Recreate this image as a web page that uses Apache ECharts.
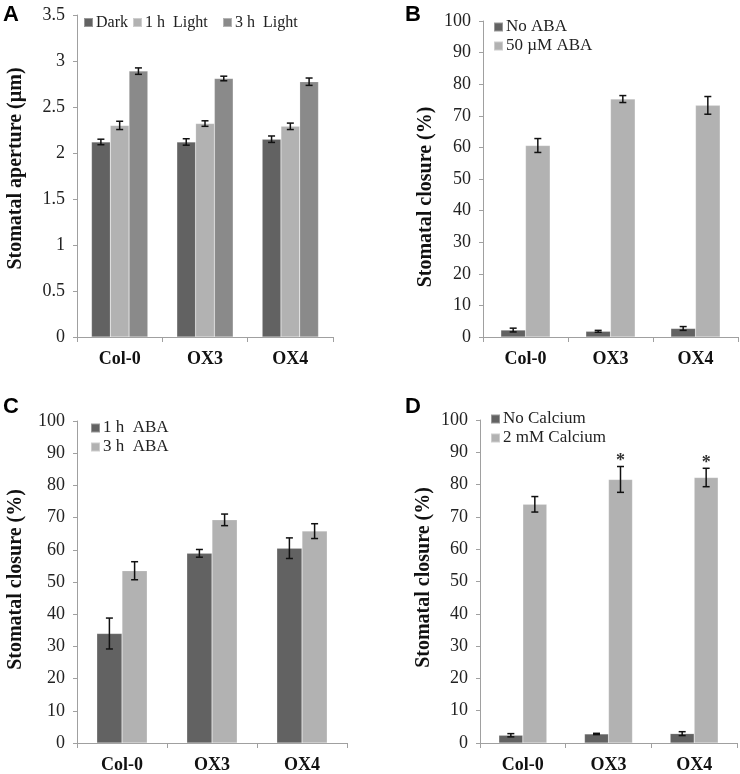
<!DOCTYPE html>
<html>
<head>
<meta charset="utf-8">
<script src="https://cdn.jsdelivr.net/npm/echarts@6/dist/echarts.min.js"></script>
<style>html,body{margin:0;padding:0;background:#fff;}#c{width:740px;height:774px;}</style>
</head>
<body>
<div id="c"></div>
<script>
const categories = ['Col-0', 'OX3', 'OX4'];

const aDark = [2.12, 2.12, 2.15];
const aDarkErr = [0.03, 0.035, 0.035];
const a1h = [2.30, 2.32, 2.29];
const a1hErr = [0.045, 0.03, 0.035];
const a3h = [2.89, 2.81, 2.775];
const a3hErr = [0.035, 0.025, 0.04];
const aTicks = { min: 0, max: 3.5, interval: 0.5 };

const bNo = [2.2, 1.8, 2.7];
const bNoErr = [0.6, 0.3, 0.6];
const bAba = [60.6, 75.3, 73.3];
const bAbaErr = [2.2, 1.1, 2.8];

const c1h = [34.0, 58.9, 60.5];
const c1hErr = [4.8, 1.2, 3.2];
const c3h = [53.5, 69.3, 65.8];
const c3hErr = [2.8, 1.8, 2.3];

const dNo = [2.4, 2.8, 2.9];
const dNoErr = [0.5, 0.2, 0.6];
const dCa = [73.9, 81.6, 82.2];
const dCaErr = [2.4, 4.0, 2.85];
const dStars = ['', '*', '*'];

const pctTicks = { min: 0, max: 100, interval: 10 };

const DARK = '#626262', LIGHT = '#b2b2b2', MID = '#8a8a8a';
const SERIF = 'Liberation Serif';
const AXIS_C = '#a0a0a0';

const grids = [
  { left: 77, top: 15, width: 256, height: 322, gap: 0.34 },
  { left: 483, top: 21, width: 255, height: 316, gap: 0.42 },
  { left: 77, top: 421, width: 270, height: 322, gap: 0.44 },
  { left: 480, top: 420, width: 257, height: 324, gap: 0.44 }
];

function xAxis(g) {
  return {
    type: 'category', gridIndex: g, data: categories,
    axisLine: { show: true, lineStyle: { color: AXIS_C, width: 1 } },
    axisTick: { show: true, length: 5, lineStyle: { color: AXIS_C } },
    axisLabel: { fontFamily: SERIF, fontWeight: 'bold', fontSize: 18, color: '#111', margin: 13 },
    splitLine: { show: false }
  };
}
function yAxis(g, t, name, gap, pad) {
  return {
    type: 'value', gridIndex: g, min: t.min, max: t.max, interval: t.interval,
    name: name, nameLocation: 'middle', nameGap: gap,
    nameTextStyle: { fontFamily: SERIF, fontWeight: 'bold', fontSize: 20, color: '#111', padding: pad },
    axisLine: { show: true, lineStyle: { color: AXIS_C, width: 1 } },
    axisTick: { show: true, length: 4, lineStyle: { color: AXIS_C } },
    axisLabel: { fontFamily: SERIF, fontSize: 18, color: '#222', margin: 12 },
    splitLine: { show: false }
  };
}

function bar(g, name, vals, color) {
  return {
    type: 'bar', name: name, xAxisIndex: g, yAxisIndex: g, data: vals,
    barGap: '0%', barCategoryGap: Math.round(grids[g].gap * 100) + '%',
    itemStyle: { color: color, borderColor: 'rgba(255,255,255,0.35)', borderWidth: 0.5 },
    emphasis: { disabled: true }, silent: true
  };
}

function errBars(g, vals, errs, idx, n, stars) {
  const gap = grids[g].gap;
  return {
    type: 'custom', xAxisIndex: g, yAxisIndex: g, z: 10, silent: true,
    encode: { x: 0, y: 1 },
    data: vals.map((v, i) => [i, v, errs[i]]),
    renderItem: function (params, api) {
      const i = api.value(0), v = api.value(1), e = api.value(2);
      const bandW = api.size([1, 0])[0];
      const w = bandW * (1 - gap) / n;
      const off = -n * w / 2 + w * (idx + 0.5);
      const top = api.coord([i, v + e]);
      const bot = api.coord([i, v - e]);
      const x = top[0] + off;
      const h = 3.5;
      const st = { stroke: '#111', lineWidth: 1.5 };
      const children = [
        { type: 'line', shape: { x1: x, y1: top[1], x2: x, y2: bot[1] }, style: st },
        { type: 'line', shape: { x1: x - h, y1: top[1], x2: x + h, y2: top[1] }, style: st },
        { type: 'line', shape: { x1: x - h, y1: bot[1], x2: x + h, y2: bot[1] }, style: st }
      ];
      if (stars && stars[params.dataIndex]) {
        children.push({ type: 'text', style: { text: stars[params.dataIndex], x: x, y: top[1] + 4,
          align: 'center', verticalAlign: 'bottom', fill: '#333', font: 'bold 18px ' + SERIF } });
      }
      return { type: 'group', children: children };
    }
  };
}

function legend(names, left, top, orient, size) {
  return {
    data: names, left: left, top: top, orient: orient, icon: 'rect', padding: 0,
    itemWidth: 9, itemHeight: 9, itemGap: 2,
    selectedMode: false,
    textStyle: { fontFamily: SERIF, fontSize: size, color: '#222', padding: [0, 0, 0, -2] }
  };
}

function letter(t, x, y) {
  return { type: 'text', left: x, top: y, style: { text: t, font: 'bold 22px Liberation Sans', fill: '#000' } };
}

const option = {
  animation: false,
  backgroundColor: '#fff',
  grid: grids.map(g => ({ left: g.left, top: g.top, width: g.width, height: g.height })),
  xAxis: [xAxis(0), xAxis(1), xAxis(2), xAxis(3)],
  yAxis: [
    yAxis(0, aTicks, 'Stomatal aperture (µm)', 51, [0, 0, 0, 15]),
    yAxis(1, pctTicks, 'Stomatal closure (%)', 47, [0, 36, 0, 0]),
    yAxis(2, pctTicks, 'Stomatal closure (%)', 51, [0, 0, 0, 5]),
    yAxis(3, pctTicks, 'Stomatal closure (%)', 46, [0, 0, 0, 8])
  ],
  legend: [
    legend(['Dark'], 83, 14.5, 'horizontal', 16),
    legend(['1 h  Light'], 132, 14.5, 'horizontal', 16),
    legend(['3 h  Light'], 222, 14.5, 'horizontal', 16),
    legend(['No ABA', '50 µM ABA'], 493, 18.5, 'vertical', 17),
    legend(['1 h  ABA', '3 h  ABA'], 90, 419.5, 'vertical', 17),
    legend(['No Calcium', '2 mM Calcium'], 490, 410.5, 'vertical', 17)
  ],
  graphic: [letter('A', 3, 4), letter('B', 405, 4), letter('C', 3, 396), letter('D', 405, 396)],
  series: [
    bar(0, 'Dark', aDark, DARK), bar(0, '1 h  Light', a1h, LIGHT), bar(0, '3 h  Light', a3h, MID),
    errBars(0, aDark, aDarkErr, 0, 3), errBars(0, a1h, a1hErr, 1, 3), errBars(0, a3h, a3hErr, 2, 3),
    bar(1, 'No ABA', bNo, DARK), bar(1, '50 µM ABA', bAba, LIGHT),
    errBars(1, bNo, bNoErr, 0, 2), errBars(1, bAba, bAbaErr, 1, 2),
    bar(2, '1 h  ABA', c1h, DARK), bar(2, '3 h  ABA', c3h, LIGHT),
    errBars(2, c1h, c1hErr, 0, 2), errBars(2, c3h, c3hErr, 1, 2),
    bar(3, 'No Calcium', dNo, DARK), bar(3, '2 mM Calcium', dCa, LIGHT),
    errBars(3, dNo, dNoErr, 0, 2), errBars(3, dCa, dCaErr, 1, 2, dStars)
  ]
};

const chart = echarts.init(document.getElementById('c'), null, { renderer: 'canvas' });
chart.setOption(option);
</script>
</body>
</html>
